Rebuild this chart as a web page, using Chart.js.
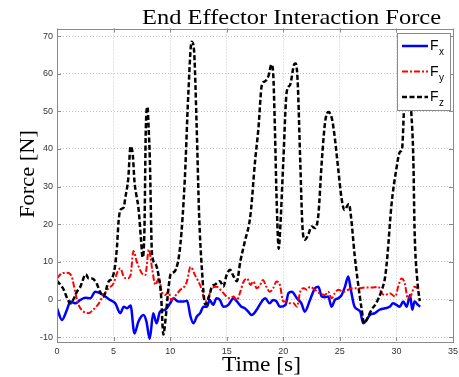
<!DOCTYPE html>
<html>
<head>
<meta charset="utf-8">
<script src="https://cdn.jsdelivr.net/npm/chart.js@4/dist/chart.umd.min.js"></script>
<style>
html,body{margin:0;padding:0;background:#fff;}
#wrap{width:459px;height:377px;position:relative;}
</style>
</head>
<body>
<div id="wrap"><canvas id="c" width="459" height="377"></canvas></div>
<script>
// ---- data ----
const chartTitle = "End Effector Interaction Force";
const xAxisLabel = "Time [s]";
const yAxisLabel = "Force [N]";
const xTicks = [0, 5, 10, 15, 20, 25, 30, 35];
const yTicks = [-10, 0, 10, 20, 30, 40, 50, 60, 70];
const seriesNames = ["F", "F", "F"];
const seriesSubs = ["x", "y", "z"];

const fxTime = [0,0.44,0.88,1.18,1.6,2.06,2.5,2.94,3.38,3.8,4.26,4.7,5.15,5.6,5.9,6.2,6.5,6.85,7.2,7.65,7.9,8.2,8.5,8.8,9.1,9.56,10,10.3,10.7,11.2,11.5,11.8,12.06,12.36,12.65,12.95,13.24,13.5,13.8,14.1,14.4,14.7,15.15,15.6,15.9,16.3,16.6,16.9,17.2,17.65,18.1,18.4,18.8,19.1,19.4,19.7,20.2,20.45,20.75,21.2,21.6,21.9,22.36,22.8,23.1,23.4,23.7,23.97,24.27,24.56,24.86,25.15,25.45,25.74,25.97,26.3,26.8,27.06,27.36,27.65,28.1,28.5,29,29.4,29.7,30,30.3,30.6,30.9,31.2,31.4,31.6,31.9,32.1];
const fxValues = [-2.3,-5.4,-2.7,-0.5,-1,-0.1,0.5,0.35,2.1,1.7,0.8,-0.1,-1,-3.6,-1.9,-2.3,-1.6,-9,-5.8,-4.1,-5.8,-10.4,-3.6,-6.3,-3.2,-2.7,-1,0.35,-0.5,-0.5,-0.3,-4.5,-6.3,-4.5,-3.6,-1.9,-1.9,-0.1,-1.4,0.35,-0.1,-1.9,-1.4,0.35,-0.5,-1.9,-2.3,-3.2,-4.1,-2.7,-0.5,0.35,-1,-0.1,-0.5,-1.9,-1.4,1.7,2.1,0.35,-1,-3.2,-0.1,3,3.4,0.8,0.6,0.8,-1.9,-0.1,0.35,1.2,3.4,6.1,2.6,-1.9,-3.2,-6.3,-5.4,-4.1,-3.6,-2.7,-2.3,-1.9,-1,-1.4,-1.9,-0.5,-1.9,1.2,-2.7,-0.5,-1.4,-1.9];

const fyTime = [0,0.44,0.88,1.3,1.6,1.9,2.35,2.8,3.2,3.7,4.1,4.56,5,5.3,5.6,5.9,6.2,6.5,6.76,7.06,7.5,7.8,8.12,8.4,8.7,9,9.26,9.56,9.85,10.1,10.4,10.9,11.3,11.5,11.8,12.2,12.5,12.8,13.1,13.4,13.7,14.1,14.6,15,15.3,15.6,15.9,16.2,16.5,16.8,17.1,17.35,17.65,17.95,18.2,18.5,18.8,19.1,19.4,19.7,20,20.3,20.6,20.9,21.2,21.5,21.8,22.1,22.36,22.8,23.2,23.68,23.97,24.27,24.56,24.86,25.3,25.74,26.2,26.6,27.2,27.8,28.4,28.7,29,29.4,29.9,30.15,30.45,30.74,31,31.3,31.6,31.9,32.1];
const fyValues = [5.6,7,7.1,6.1,2.1,-1.4,-3.2,-3.6,-2.7,-1,1.2,3,4.3,7,8.3,6.1,5.6,6.5,12.9,10,7,6.5,13.3,8.3,3.9,5.6,2.1,1.2,2.1,-0.1,0.8,2.6,3.6,5,8.7,6.5,4.8,2.6,-0.5,0.8,3,3.4,2.1,0.8,0.35,0.8,-0.1,2.1,4.8,5.6,3.9,4.8,3,3.9,5.2,3.4,2.1,3,4.8,3.9,-0.5,-0.5,-1,-1,-1.9,2.1,3,2.6,3.4,2.6,1.7,1.2,2.1,0.35,1.7,2.6,2.1,2.6,3,3,3.2,3.2,3.4,1.7,1.2,1.7,0.8,3.4,5.6,4.3,0.35,1.2,3.4,3,3];

const fzTime = [0,0.3,0.6,0.9,1.2,1.5,1.76,2.06,2.55,2.8,3.1,3.5,3.8,4.1,4.56,4.85,5.1,5.3,5.44,5.6,5.9,6.03,6.3,6.5,6.7,6.85,7,7.2,7.44,7.56,7.73,7.85,8,8.1,8.2,8.4,8.7,9,9.2,9.4,9.6,9.85,10.05,10.4,10.9,11.3,11.6,11.9,12.1,12.35,12.56,12.8,13.1,13.4,13.7,13.97,14.4,14.7,15,15.3,15.6,15.9,16.2,16.6,17.1,17.5,17.8,18.1,18.4,18.7,18.95,19.1,19.26,19.4,19.6,19.7,20,20.3,20.6,20.97,21.1,21.27,21.5,21.7,21.9,22.2,22.5,22.8,23.1,23.4,23.7,23.97,24.3,24.56,24.85,25.15,25.4,25.8,26,26.3,26.6,26.9,27.15,27.36,27.8,28.2,28.7,29,29.2,29.56,30,30.3,30.5,30.7,31,31.3,31.5,31.6,31.85,32.06];
const fzValues = [5,3.9,2.6,0.35,-1,0.35,2.1,3.4,6.7,5.6,5.6,4.3,2.1,0.8,4.8,5.6,8.3,14,20.7,23.8,24.5,26.9,32.2,40.7,38.4,31.3,28,24.3,15.4,11.2,19,45.4,51.2,45.4,38,12,9.5,6,1,-9.3,-5,3,6.8,7.5,14.5,32.2,54.2,68.5,66.6,45.4,22.5,8.4,-1.3,0.4,3.5,4,4.9,3.5,6.6,7.9,6.2,4.9,10.1,15.4,22.5,36.6,45.4,56.9,58,59.5,62.4,60.4,45.4,27.8,13.5,17.2,36.6,55.1,57,62.5,62.7,58,36.6,19,15.9,17.2,19.4,19,22.5,36.6,47.2,49.8,48,42.8,34.8,26.9,23.8,25.4,21.6,12,4.5,-2,-6.3,-5.4,-2.7,-1,2.5,6,11.5,25.1,34.8,39.2,40.1,52.5,60,50.3,36.6,19,4.9,-0.4];

// ---- styles ----
const styles = [
  {color:"#0000ff", width:2.5, dash:[]},
  {color:"#ff0000", width:2, dash:[6,2,2,2]},
  {color:"#000000", width:2.5, dash:[5,2.5]}
];
const toPts = (ts, vs) => ts.map((t, i) => ({x: t, y: vs[i]}));
const seriesData = [toPts(fxTime, fxValues), toPts(fyTime, fyValues), toPts(fzTime, fzValues)];

const AXIS_COLOR = "#8a8a8a";

function fitText(ctx, text, cx, cy, targetW) {
  const w = ctx.measureText(text).width;
  const sx = targetW / w;
  ctx.save();
  ctx.translate(cx, cy);
  ctx.scale(sx, 1);
  ctx.textAlign = "center";
  ctx.fillText(text, 0, 0);
  ctx.restore();
}

const frame = {
  id: "frame",
  afterDatasetsDraw(chart) {
    const {ctx, chartArea: a, scales} = chart;
    ctx.save();
    ctx.strokeStyle = AXIS_COLOR;
    ctx.lineWidth = 1;
    ctx.setLineDash([]);
    ctx.strokeRect(Math.round(a.left) + 0.5, Math.round(a.top) + 0.5, Math.round(a.right - a.left), Math.round(a.bottom - a.top));
    const tl = 4;
    ctx.beginPath();
    xTicks.forEach(v => {
      const px = Math.round(scales.x.getPixelForValue(v)) + 0.5;
      ctx.moveTo(px, a.bottom); ctx.lineTo(px, a.bottom - tl);
      ctx.moveTo(px, a.top); ctx.lineTo(px, a.top + tl);
    });
    yTicks.forEach(v => {
      const py = Math.round(scales.y.getPixelForValue(v)) + 0.5;
      ctx.moveTo(a.left, py); ctx.lineTo(a.left + tl, py);
      ctx.moveTo(a.right, py); ctx.lineTo(a.right - tl, py);
    });
    ctx.stroke();

    // legend
    const lx = a.right - 56, ly = a.top + 4.5, lw = 53, lh = 77;
    ctx.fillStyle = "#ffffff";
    ctx.fillRect(lx, ly, lw, lh);
    ctx.strokeStyle = AXIS_COLOR;
    ctx.strokeRect(Math.round(lx) + 0.5, Math.round(ly) + 0.5, lw, lh);
    styles.forEach((s, i) => {
      const yy = ly + 13 + i * 25.5;
      ctx.beginPath();
      ctx.strokeStyle = s.color;
      ctx.lineWidth = s.width;
      ctx.setLineDash(s.dash);
      ctx.moveTo(lx + 5, yy); ctx.lineTo(lx + 31, yy);
      ctx.stroke();
      ctx.setLineDash([]);
      ctx.fillStyle = "#000";
      ctx.textAlign = "left";
      ctx.textBaseline = "alphabetic";
      ctx.font = "14px 'Liberation Sans', Arial, sans-serif";
      ctx.fillText(seriesNames[i], lx + 33, yy + 4);
      ctx.font = "10px 'Liberation Sans', Arial, sans-serif";
      ctx.fillText(seriesSubs[i], lx + 42, yy + 9);
    });

    // titles
    ctx.fillStyle = "#000";
    ctx.font = "22px 'Liberation Serif', 'Times New Roman', serif";
    ctx.textBaseline = "alphabetic";
    fitText(ctx, chartTitle, 291.5, 24, 299);
    fitText(ctx, xAxisLabel, 261.5, 371, 79);
    ctx.save();
    ctx.translate(34, 174);
    ctx.rotate(-Math.PI / 2);
    fitText(ctx, yAxisLabel, 0, 0, 88);
    ctx.restore();
    ctx.restore();
  }
};

new Chart(document.getElementById("c"), {
  type: "line",
  data: {
    datasets: seriesData.map((d, i) => ({
      label: seriesNames[i] + seriesSubs[i],
      data: d,
      borderColor: styles[i].color,
      borderWidth: styles[i].width,
      borderDash: styles[i].dash,
      pointRadius: 0,
      fill: false,
      cubicInterpolationMode: "monotone",
      order: 2 - i
    }))
  },
  options: {
    responsive: false,
    animation: false,
    events: [],
    layout: {padding: {top: 28.5, right: 6, left: 0, bottom: 0}},
    plugins: {legend: {display: false}, title: {display: false}, tooltip: {enabled: false}},
    scales: {
      x: {
        type: "linear", min: 0, max: 35,
        afterBuildTicks: s => { s.ticks = xTicks.map(v => ({value: v})); },
        afterFit: s => { s.height = 36; s.paddingLeft = 0; s.paddingRight = 0; },
        grid: {color: "#c4c4c4", drawTicks: false},
        border: {display: false, dash: [1, 2]},
        ticks: {padding: 5, color: "#333", font: {family: "'Liberation Sans', Arial, sans-serif", size: 9}}
      },
      y: {
        type: "linear", min: -11, max: 72,
        afterBuildTicks: s => { s.ticks = yTicks.map(v => ({value: v})); },
        afterFit: s => { s.width = 57; s.paddingTop = 0; s.paddingBottom = 0; },
        grid: {color: "#c4c4c4", drawTicks: false},
        border: {display: false, dash: [1, 2]},
        ticks: {padding: 4, color: "#333", font: {family: "'Liberation Sans', Arial, sans-serif", size: 9}}
      }
    }
  },
  plugins: [frame]
});
</script>
</body>
</html>
